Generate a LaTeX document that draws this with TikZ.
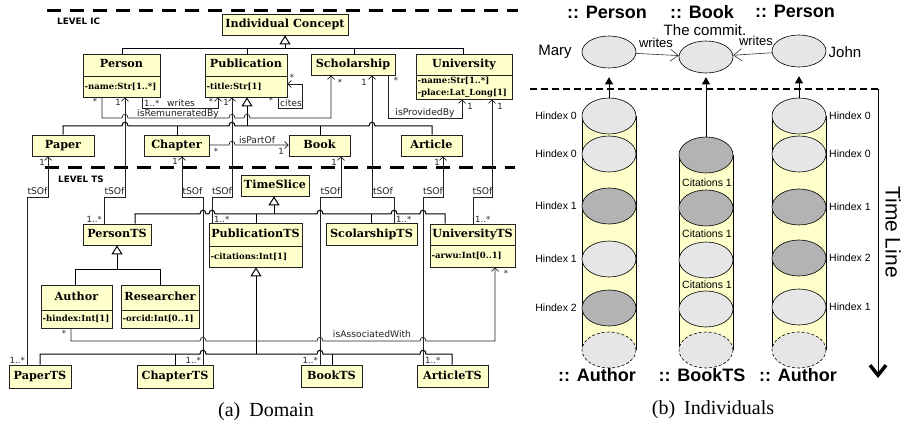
\documentclass[tikz,border=0pt]{standalone}
\usepackage{fontspec}
\setmainfont{Liberation Sans}
\newfontfamily\dvs{DejaVu Sans}
\newfontfamily\dvserif{DejaVu Serif}
\newfontfamily\tms{Liberation Serif}
\usetikzlibrary{arrows.meta,fit,shapes.geometric}
\definecolor{uyel}{HTML}{FFFFCC}
\definecolor{lg}{HTML}{E6E6E6}
\definecolor{dg}{HTML}{B3B3B3}
\definecolor{ln}{HTML}{222222}
\newcommand\umlA[6]{%
  \node[umlbox, fit={(#2,#3)(#4,#5)}] (#1) {};
  \node[utitle] (#1-t) at ({(#2+#4)/2},{(#3+#5)/2}) {#6};}
\newcommand\umlB[8]{%
  \node[umlbox, fit={(#2,#3)(#4,#5)}] (#1) {};
  \draw[boxdiv] (#2,#6) -- (#4,#6);
  \node[utitle] (#1-t) at ({(#2+#4)/2},{(#3+#6)/2}) {#7};
  \node[uattr] (#1-a) at ({#2+1.5},{(#6+#5)/2}) {#8};}
\begin{document}
\begin{tikzpicture}[x=1pt,y=-1pt,
  umlbox/.style={draw=ln, fill=uyel, line width=0.7pt, inner sep=0pt},
  boxdiv/.style={draw=ln, line width=0.7pt},
  utitle/.style={font=\dvserif\bfseries\fontsize{11.2}{12}\selectfont, inner sep=0pt, text height=8pt, text depth=2pt},
  uattr/.style={font=\dvserif\bfseries\fontsize{8.5}{12}\selectfont, inner sep=0pt, anchor=west, align=left},
  lab/.style={font=\dvs\fontsize{9.2}{10}\selectfont, inner sep=0pt, text=ln},
  mult/.style={font=\dvs\fontsize{8.5}{9}\selectfont, inner sep=0pt, text=ln},
  lvl/.style={font=\dvs\bfseries\fontsize{8.8}{10}\selectfont, inner sep=0pt, anchor=west},
  pline/.style={draw=ln, line width=0.7pt},
  assoc/.style={pline, -{Straight Barb[length=3.5pt,width=7pt]}},
  gen/.style={draw=black, line width=1pt, -{Triangle[open,length=9pt,width=11pt]}},
  gline/.style={draw=black, line width=1pt},
  lvlline/.style={line width=3pt, dash pattern=on 14pt off 9pt},
  hb/.style 2 args={insert path={-- ({#1-3},#2) .. controls ({#1-3},{#2-5}) and ({#1+3},{#2-5}) .. ({#1+3},#2)}},
  ell/.style={ellipse, draw=black, line width=0.6pt, minimum width=54pt, minimum height=32pt, inner sep=0pt, fill=lg},
  cell/.style={ellipse, draw=black, line width=0.6pt, minimum width=54pt, minimum height=36pt, inner sep=0pt},
  hl/.style={font=\fontsize{10.5}{12}\selectfont, inner sep=0pt},
  hdr/.style={font=\bfseries\fontsize{18}{20}\selectfont, inner sep=0pt},
  farrow/.style={draw=black, line width=0.6pt, -{Triangle[length=7pt,width=8pt]}},
  warrow/.style={draw=black!80, line width=0.6pt, -{Straight Barb[length=8pt,width=12pt]}},
  captxt/.style={font=\tms\fontsize{20}{22}\selectfont, inner sep=0pt}
]
\useasboundingbox (0,0) rectangle (903,425);
\fill[white] (0,0) rectangle (903,425);
% ---------------- left panel ----------------
\draw[lvlline] (47,11) -- (518,11);
\draw[lvlline] (45,168) -- (515,168);
\node[lvl] (lvIC) at (57,21) {LEVEL IC};
\node[lvl] (lvTS) at (58,179) {LEVEL TS};
% classes
\umlA{IC}{222}{14}{348}{35}{Individual Concept}
\umlB{Person}{83}{54}{160}{97}{76}{Person}{-name:Str[1..*]}
\umlB{Publication}{205}{54}{287}{97}{76}{Publication}{-title:Str[1]}
\umlA{Scholarship}{311}{54}{395}{75}{Scholarship}
\umlB{University}{416}{54}{512}{99}{75}{University}{-name:Str[1..*]\\-place:Lat\_Long[1]}
\umlA{Paper}{32}{135}{94}{156}{Paper}
\umlA{Chapter}{144}{135}{209}{156}{Chapter}
\umlA{Book}{289}{135}{350}{156}{Book}
\umlA{Article}{401}{135}{462}{156}{Article}
\umlA{TimeSlice}{241}{175}{309}{196}{TimeSlice}
\umlA{PersonTS}{83}{224}{151}{245}{PersonTS}
\umlB{PublicationTS}{209}{223}{302}{267}{246}{PublicationTS}{-citations:Int[1]}
\umlA{ScolarshipTS}{326}{223}{417}{245}{ScolarshipTS}
\umlB{UniversityTS}{430}{224}{515}{267}{245}{UniversityTS}{-arwu:Int[0..1]}
\umlB{Author}{41}{285}{112}{328}{310}{Author}{-hindex:Int[1]}
\umlB{Researcher}{121}{285}{199}{328}{310}{Researcher}{-orcid:Int[0..1]}
\umlA{PaperTS}{9}{365}{71}{388}{PaperTS}
\umlA{ChapterTS}{137}{365}{213}{388}{ChapterTS}
\umlA{BookTS}{301}{365}{362}{387}{BookTS}
\umlA{ArticleTS}{417}{365}{488}{387}{ArticleTS}
% generalisation: IC level
\draw[gen] (285,49) -- (285,0 |- IC.south);
\draw[gline] (122,0 |- Person.north) -- (122,49) -- (463,49) -- (463,0 |- University.north);
\draw[gline] (247,49) -- (247,0 |- Publication.north);
\draw[gline] (354,49) -- (354,0 |- Scholarship.north);
\draw[gen] (247,126) -- (247,0 |- Publication.south);
\draw[gline] (63,0 |- Paper.north) -- (63,126) [hb={125}{126}] [hb={232}{126}] [hb={372}{126}] -- (432,126) -- (432,0 |- Article.north);
\draw[gline] (177,126) -- (177,0 |- Chapter.north);
\draw[gline] (320,126) -- (320,0 |- Book.north);
% associations IC level
\draw[assoc] (142,0 |- Person.south) -- (142,108) -- (218,108) -- (218,0 |- Publication.south);
\draw[assoc] (102,0 |- Person.south) -- (102,118) [hb={125}{118}] [hb={232}{118}] [hb={247}{118}] -- (331,118) -- (331,0 |- Scholarship.south);
\draw[assoc] (278,0 |- Publication.south) -- (278,108) -- (302,108) -- (302,84) -- (Publication.east |- 0,84);
\draw[assoc] (388,0 |- Scholarship.south) -- (388,118) -- (462,118) -- (462,0 |- University.south);
\draw[assoc] (Chapter.east |- 0,145) [hb={232}{145}] -- (Book.west |- 0,145);
% tSOf
\draw[assoc] (27,0 |- PaperTS.north) -- (27,197) -- (48,197) -- (48,0 |- Paper.south);
\draw[assoc] (104,0 |- PersonTS.north) -- (104,197) -- (125,197) -- (125,0 |- Person.south);
\draw[assoc] (203,0 |- ChapterTS.north) -- (203,197) -- (182,197) -- (182,0 |- Chapter.south);
\draw[assoc] (212,0 |- PublicationTS.north) -- (212,197) -- (232,197) -- (232,0 |- Publication.south);
\draw[assoc] (320,0 |- BookTS.north) -- (320,197) -- (341,197) -- (341,0 |- Book.south);
\draw[assoc] (394,0 |- ScolarshipTS.north) -- (394,197) -- (372,197) -- (372,0 |- Scholarship.south);
\draw[assoc] (423,0 |- ArticleTS.north) -- (423,197) -- (443,197) -- (443,0 |- Article.south);
\draw[assoc] (473,0 |- UniversityTS.north) -- (473,197) -- (492,197) -- (492,0 |- University.south);
% generalisation TS level
\draw[gen] (274,214) -- (274,0 |- TimeSlice.south);
\draw[gline] (135,0 |- PersonTS.north) -- (135,214) [hb={203}{214}] [hb={212}{214}] [hb={320}{214}] [hb={394}{214}] [hb={423}{214}] -- (445,214) -- (445,0 |- UniversityTS.north);
\draw[gline] (256,214) -- (256,0 |- PublicationTS.north);
\draw[gline] (371,214) -- (371,0 |- ScolarshipTS.north);
\draw[gen] (117,269) -- (117,0 |- PersonTS.south);
\draw[gline] (75,0 |- Author.north) -- (75,269) -- (160,269) -- (160,0 |- Researcher.north);
\draw[gen] (256,354) -- (256,0 |- PublicationTS.south);
\draw[gline] (40,0 |- PaperTS.north) -- (40,354) [hb={203}{354}] [hb={320}{354}] [hb={423}{354}] -- (452,354) -- (452,0 |- ArticleTS.north);
\draw[gline] (175,354) -- (175,0 |- ChapterTS.north);
\draw[gline] (332,354) -- (332,0 |- BookTS.north);
\draw[assoc] (71,0 |- Author.south) -- (71,341) [hb={203}{341}] [hb={320}{341}] [hb={423}{341}] -- (495,341) -- (495,0 |- UniversityTS.south);
% labels
\node[mult] (m1) at (95,101) {*};
\node[mult] (m2) at (118,102) {1};
\node[mult, anchor=west] (m3) at (144,103) {1..*};
\node[lab] (t1) at (181,103) {writes};
\node[mult] (m4) at (211,101) {*};
\node[mult] (m5) at (226,102) {1};
\node[lab] (t2) at (178,114) {isRemuneratedBy};
\node[mult] (m6) at (271,100) {*};
\node[mult] (m7) at (292,77) {*};
\node[lab] (t3) at (291,103) {cites};
\node[mult] (m8) at (340,82) {*};
\node[mult] (m9) at (364,82) {1};
\node[mult] (m10) at (396,80) {*};
\node[lab] (t4) at (425,113) {isProvidedBy};
\node[mult] (m11) at (470,106) {1};
\node[mult] (m12) at (500,106) {1};
\node[mult] (m13) at (42,162) {1};
\node[mult] (m14) at (175,161) {1};
\node[mult] (m15) at (216,151) {*};
\node[lab] (t5) at (257,140) {isPartOf};
\node[mult] (m16) at (281,151) {1};
\node[mult] (m17) at (334,162) {1};
\node[mult] (m18) at (437,162) {1};
\node[lab] (s1) at (37.5,191.5) {tSOf};
\node[lab] (s2) at (114.5,191.5) {tSOf};
\node[lab] (s3) at (192.5,191.5) {tSOf};
\node[lab] (s4) at (222,191.5) {tSOf};
\node[lab] (s5) at (330.5,191.5) {tSOf};
\node[lab] (s6) at (383,191.5) {tSOf};
\node[lab] (s7) at (433,191.5) {tSOf};
\node[lab] (s8) at (482.5,191.5) {tSOf};
\node[mult, anchor=east] (m19) at (102,219) {1..*};
\node[mult, anchor=west] (m20) at (214,219) {1..*};
\node[mult, anchor=west] (m21) at (396,219) {1..*};
\node[mult, anchor=west] (m22) at (475,219) {1..*};
\node[mult, anchor=east] (m23) at (25,360) {1..*};
\node[mult, anchor=east] (m24) at (201,360) {1..*};
\node[mult, anchor=east] (m25) at (318,360) {1..*};
\node[mult, anchor=west] (m26) at (425,360) {1..*};
\node[mult] (m27) at (64,333) {*};
\node[lab] (t6) at (372,334) {isAssociatedWith};
\node[mult] (m28) at (506,273) {*};
\node[captxt] (capa) at (266,412) {(a)\hspace{0.45em}Domain};
% ---------------- right panel ----------------
\node[hdr] (h1) at (607,12) {:: Person};
\node[hdr] (h2) at (702,12) {:: Book};
\node[hdr] (h3) at (795,11) {:: Person};
\node[font=\fontsize{15}{17}\selectfont, inner sep=0pt] (tcm) at (705,30) {The commit.};
\node[ell] (mary) at (609,52) {};
\node[ell] (book) at (706,57) {};
\node[ell] (john) at (799,51) {};
\node[font=\fontsize{15}{17}\selectfont, inner sep=0pt] (maryl) at (555,52) {Mary};
\node[font=\fontsize{15}{17}\selectfont, inner sep=0pt] (johnl) at (845,52) {John};
\draw[warrow] (mary) -- (book);
\draw[warrow] (john) -- (book);
\node[font=\fontsize{13}{15}\selectfont, inner sep=0pt] (w1) at (656,43) {writes};
\node[font=\fontsize{13}{15}\selectfont, inner sep=0pt] (w2) at (756,41) {writes};
\draw[line width=1.3pt, dash pattern=on 7pt off 4pt] (530,89) -- (878,89);
\coordinate (tla) at (878,89);
\coordinate (tlb) at (878,378);
\draw[line width=1pt, -{Straight Barb[length=10pt,width=16pt,line width=3.5pt]}] (tla) -- (tlb);
\node[font=\fontsize{21}{24}\selectfont, inner sep=0pt, rotate=-90] (tl) at (893,232) {Time Line};
% cylinders
\fill[uyel] (582,116) rectangle (636,350);
\draw[line width=0.7pt] (582,116) -- (582,350) (636,116) -- (636,350);
\fill[uyel] (679,155) rectangle (733,350);
\draw[line width=0.7pt] (679,155) -- (679,350) (733,155) -- (733,350);
\fill[uyel] (772,116) rectangle (826,350);
\draw[line width=0.7pt] (772,116) -- (772,350) (826,116) -- (826,350);
\node[cell, fill=lg] (a1) at (609,116) {};
\node[cell, fill=lg] (a2) at (609,154) {};
\node[cell, fill=dg] (a3) at (609,206) {};
\node[cell, fill=lg] (a4) at (609,259) {};
\node[cell, fill=dg] (a5) at (609,308) {};
\node[cell, fill=lg, densely dashed] (a6) at (609,350) {};
\node[cell, fill=dg] (b1) at (706,155) {};
\node[cell, fill=dg] (b2) at (706,208) {};
\node[cell, fill=lg] (b3) at (706,260) {};
\node[cell, fill=lg] (b4) at (706,309) {};
\node[cell, fill=lg, densely dashed] (b5) at (706,350) {};
\node[cell, fill=lg] (c1) at (799,116) {};
\node[cell, fill=lg] (c2) at (799,154) {};
\node[cell, fill=dg] (c3) at (799,207) {};
\node[cell, fill=dg] (c4) at (799,258) {};
\node[cell, fill=lg] (c5) at (799,307) {};
\node[cell, fill=lg, densely dashed] (c6) at (799,350) {};
\draw[farrow, shorten >=9pt] (a1.north) -- (mary.south);
\draw[farrow, shorten >=4pt] (b1.north) -- (book.south);
\draw[farrow, shorten >=9pt] (c1.north) -- (john.south);
\node[hl, anchor=east] (la1) at (577,116) {Hindex 0};
\node[hl, anchor=east] (la2) at (577,154) {Hindex 0};
\node[hl, anchor=east] (la3) at (577,206) {Hindex 1};
\node[hl, anchor=east] (la4) at (577,259) {Hindex 1};
\node[hl, anchor=east] (la5) at (577,308) {Hindex 2};
\node[hl] (lb1) at (707,183) {Citations 1};
\node[hl] (lb2) at (707,234) {Citations 1};
\node[hl] (lb3) at (707,285) {Citations 1};
\node[hl, anchor=west] (lc1) at (829,116) {Hindex 0};
\node[hl, anchor=west] (lc2) at (829,154) {Hindex 0};
\node[hl, anchor=west] (lc3) at (829,207) {Hindex 1};
\node[hl, anchor=west] (lc4) at (829,258) {Hindex 2};
\node[hl, anchor=west] (lc5) at (829,307) {Hindex 1};
\node[hdr] (f1) at (597,375) {:: Author};
\node[hdr] (f2) at (702,375) {:: BookTS};
\node[hdr] (f3) at (798,375) {:: Author};
\node[captxt] (capb) at (713,410) {(b)\hspace{0.45em}Individuals};
\end{tikzpicture}
\end{document}
